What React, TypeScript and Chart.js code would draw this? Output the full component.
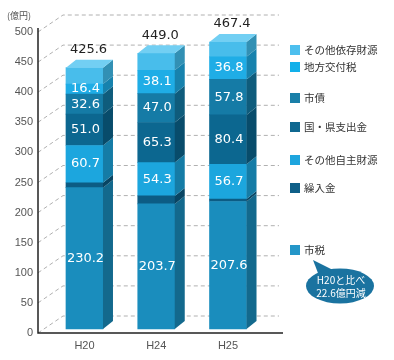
import React, { useEffect, useRef } from "react";
import { Chart, registerables } from "chart.js";
Chart.register(...registerables);

const categories = ["H20", "H24", "H25"];
const seriesNames = ["市税", "繰入金", "その他自主財源", "国・県支出金", "市債", "地方交付税", "その他依存財源"];
const shizei = [230.2, 203.7, 207.6];
const kurikomi = [8.0, 13.0, 4.0];
const sonotaJishu = [60.7, 54.3, 56.7];
const kokuKen = [51.0, 65.3, 80.4];
const shisai = [32.6, 47.0, 57.8];
const kofuzei = [16.4, 38.1, 36.8];
const sonotaIzon = [26.7, 27.6, 24.1];
const totals = [425.6, 449.0, 467.4];
const showValue = [true, false, true, true, true, true, false];
const yTickValues = [0, 50, 100, 150, 200, 250, 300, 350, 400, 450, 500];
const unitLabel = "(億円)";
const noteLines = ["H20と比べ", "22.6億円減"];

const series = [shizei, kurikomi, sonotaJishu, kokuKen, shisai, kofuzei, sonotaIzon];
const frontColors = ["#1a8dbd", "#0c5c84", "#1ca6de", "#0c6790", "#157ba6", "#1fade6", "#48bdeb"];
const sideColors = ["#13698d", "#084563", "#157ca6", "#084c6b", "#0f5c7c", "#1782ad", "#3290b4"];
const topFaceColor = "#72cff3";
const legendColors = ["#2496c8", "#0f5f88", "#1ea5de", "#0f6890", "#1a7fa8", "#12b0ea", "#4dbfee"];
const legendY = [250, 188, 160, 127, 98, 67, 50];

const DX = 10;
const DY = 8;
const AXIS_LEFT = 38;
const AXIS_RIGHT = 283;

const threeDPlugin = {
  id: "threeD",
  beforeDatasetsDraw(chart: any) {
    const ctx = chart.ctx;
    const ys = chart.scales.y;
    const area = chart.chartArea;
    ctx.save();
    ctx.strokeStyle = "#b0b0b0";
    ctx.lineWidth = 1;
    ctx.setLineDash([4, 3]);
    yTickValues.forEach((v) => {
      const py = ys.getPixelForValue(v);
      ctx.beginPath();
      ctx.moveTo(AXIS_LEFT, py);
      ctx.lineTo(AXIS_LEFT + 25, py - 17);
      ctx.lineTo(AXIS_RIGHT - 4, py - 17);
      ctx.stroke();
    });
    ctx.setLineDash([]);
    ctx.strokeStyle = "#222";
    ctx.lineWidth = 1.5;
    ctx.beginPath();
    ctx.moveTo(AXIS_LEFT, area.top - 4);
    ctx.lineTo(AXIS_LEFT, area.bottom);
    ctx.lineTo(AXIS_RIGHT, area.bottom);
    ctx.stroke();
    ctx.restore();
  },
  afterDatasetsDraw(chart: any) {
    const ctx = chart.ctx;
    ctx.save();
    const nDs = chart.data.datasets.length;
    for (let d = 0; d < nDs; d++) {
      const meta = chart.getDatasetMeta(d);
      meta.data.forEach((el: any) => {
        const p = el.getProps(["x", "y", "base", "width"], true);
        const xr = p.x + p.width / 2;
        const yt = Math.min(p.y, p.base);
        const yb = Math.max(p.y, p.base);
        ctx.fillStyle = sideColors[d];
        ctx.beginPath();
        ctx.moveTo(xr, yt);
        ctx.lineTo(xr + DX, yt - DY);
        ctx.lineTo(xr + DX, yb - DY);
        ctx.lineTo(xr, yb);
        ctx.closePath();
        ctx.fill();
      });
    }
    const topMeta = chart.getDatasetMeta(nDs - 1);
    topMeta.data.forEach((el: any, i: number) => {
      const p = el.getProps(["x", "y", "base", "width"], true);
      const xl = p.x - p.width / 2;
      const xr = p.x + p.width / 2;
      const yt = Math.min(p.y, p.base);
      ctx.fillStyle = topFaceColor;
      ctx.beginPath();
      ctx.moveTo(xl, yt);
      ctx.lineTo(xl + DX, yt - DY);
      ctx.lineTo(xr + DX, yt - DY);
      ctx.lineTo(xr, yt);
      ctx.closePath();
      ctx.fill();
      ctx.fillStyle = "#222";
      ctx.font = "13px 'DejaVu Sans'";
      ctx.textAlign = "center";
      ctx.textBaseline = "middle";
      ctx.fillText(totals[i].toFixed(1), p.x + 4, yt - 18);
    });
    ctx.fillStyle = "#ffffff";
    ctx.font = "13px 'DejaVu Sans'";
    ctx.textAlign = "center";
    ctx.textBaseline = "middle";
    for (let d = 0; d < nDs; d++) {
      if (!showValue[d]) continue;
      const meta = chart.getDatasetMeta(d);
      meta.data.forEach((el: any, i: number) => {
        const p = el.getProps(["x", "y", "base"], true);
        ctx.fillText(series[d][i].toFixed(1), p.x + 1, (p.y + p.base) / 2);
      });
    }
    ctx.restore();
  },
  afterDraw(chart: any) {
    const ctx = chart.ctx;
    ctx.save();
    ctx.fillStyle = "#555";
    ctx.font = "9px 'Noto Sans CJK JP'";
    ctx.textAlign = "left";
    ctx.textBaseline = "middle";
    ctx.fillText(unitLabel, 7, 16);
    ctx.font = "10.5px 'Noto Sans CJK JP'";
    seriesNames.forEach((name, d) => {
      const cy = legendY[d];
      ctx.fillStyle = legendColors[d];
      ctx.fillRect(290, cy - 5, 10, 10);
      ctx.fillStyle = "#333";
      ctx.fillText(name, 304, cy + 0.5);
    });
    ctx.fillStyle = "#1a73a0";
    ctx.beginPath();
    ctx.moveTo(313, 260);
    ctx.lineTo(321, 281);
    ctx.lineTo(335, 271);
    ctx.closePath();
    ctx.fill();
    ctx.beginPath();
    ctx.ellipse(340, 286, 34, 17.5, 0, 0, Math.PI * 2);
    ctx.fill();
    ctx.fillStyle = "#ffffff";
    ctx.font = "10px 'Noto Sans CJK JP'";
    ctx.textAlign = "center";
    ctx.fillText(noteLines[0], 341, 280);
    ctx.fillText(noteLines[1], 341, 293);
    ctx.restore();
  },
};

export default function App() {
  const ref = useRef<HTMLCanvasElement | null>(null);
  useEffect(() => {
    document.body.style.margin = "0";
    const canvas = ref.current;
    if (!canvas) return;
    const datasets = series.map((arr, d) => ({
      label: seriesNames[d],
      data: arr,
      backgroundColor: frontColors[d],
      borderWidth: 0,
      barThickness: 37,
      yAxisID: "yb",
      xAxisID: "x",
    }));
    const chart = new Chart(canvas, {
      type: "bar",
      data: { labels: categories, datasets },
      options: {
        animation: false,
        responsive: false,
        layout: { padding: { top: 32, right: 130.1, left: 0, bottom: 0 } },
        plugins: { legend: { display: false }, tooltip: { enabled: false } },
        scales: {
          x: {
            type: "category",
            offset: true,
            stacked: true,
            grid: { display: false, drawTicks: false },
            border: { display: false },
            afterFit: (scale: any) => {
              scale.height = 27;
            },
            ticks: {
              padding: 6,
              color: "#555",
              font: { family: "'Liberation Sans'", size: 11 },
            },
          },
          y: {
            type: "linear",
            position: "left",
            min: 0,
            max: 500,
            grid: { display: false, drawTicks: false },
            border: { display: false },
            afterFit: (scale: any) => {
              scale.width = 48.6;
            },
            afterBuildTicks: (scale: any) => {
              scale.ticks = yTickValues.map((v) => ({ value: v }));
            },
            ticks: {
              padding: 15.6,
              color: "#555",
              font: { family: "'Liberation Sans'", size: 11 },
            },
          },
          yb: {
            type: "linear",
            display: false,
            stacked: true,
            min: -6.51,
            max: 483.7,
          },
        },
      },
      plugins: [threeDPlugin],
    } as any);
    return () => chart.destroy();
  }, []);
  return (
    <div style={{ position: "fixed", left: 0, top: 0, width: 394, height: 360, background: "#fff" }}>
      <canvas ref={ref} width={394} height={360} style={{ width: 394, height: 360 }} />
    </div>
  );
}
